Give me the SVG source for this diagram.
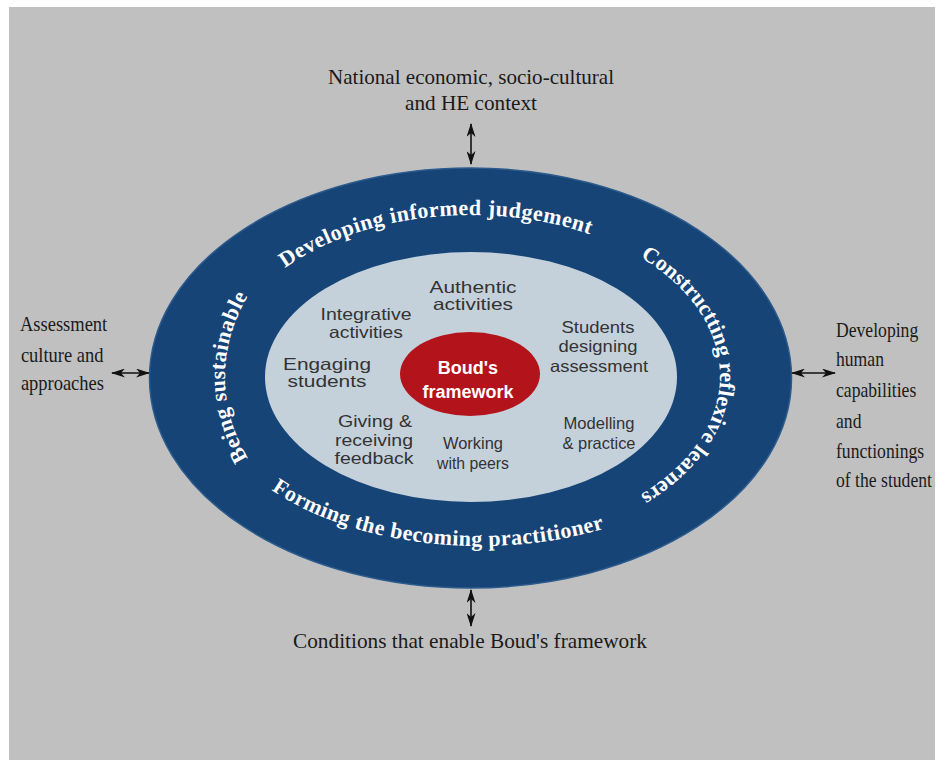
<svg xmlns="http://www.w3.org/2000/svg" width="947" height="760" viewBox="0 0 947 760">
<style>
.ring{font-family:"Liberation Serif","Times New Roman",serif;font-weight:bold;font-size:22px;fill:#ffffff}
.in{font-family:"Liberation Sans",Arial,sans-serif;font-size:16.5px;fill:#333333;text-anchor:middle}
.out{font-family:"Liberation Serif","Times New Roman",serif;font-size:21px;fill:#1a1a1a}
.core{font-family:"Liberation Sans",Arial,sans-serif;font-weight:bold;font-size:18px;fill:#ffffff;text-anchor:middle}
.conn{stroke:#111111;stroke-width:1.6;fill:none;marker-start:url(#ah);marker-end:url(#ah)}
</style>
<defs>
<marker id="ah" viewBox="0 0 14 9" refX="13" refY="4.5" markerWidth="14" markerHeight="9" markerUnits="userSpaceOnUse" orient="auto-start-reverse">
<path d="M0,0 L14,4.5 L0,9 L4,4.5 z" fill="#111111"/>
</marker>
<path id="pTop" d="M219,378 A252,163 0 1 1 723,378 A252,163 0 1 1 219,378"/>
<path id="pRight" d="M471,214 A249,162 0 1 1 471,538 A249,162 0 1 1 471,214"/>
<path id="pLeft" d="M471,569 A246,192 0 1 1 471,185 A246,192 0 1 1 471,569"/>
<path id="pBottom" d="M200,378 A280,168 0 1 0 760,378 A280,168 0 1 0 200,378"/>
</defs>
<rect x="0" y="0" width="947" height="760" fill="#ffffff"/>
<rect x="9" y="7" width="926" height="753" fill="#c0c0c0"/>

<g id="outer-ring">
<ellipse cx="470.5" cy="378" rx="321" ry="210" fill="#174476" stroke="#2b5a8c" stroke-width="1.5"/>
<text class="ring" letter-spacing="0.5"><textPath href="#pTop" startOffset="292" text-anchor="middle">Developing informed judgement</textPath></text>
<text class="ring" letter-spacing="0"><textPath href="#pRight" startOffset="25%" text-anchor="middle">Constructting reflexive learners</textPath></text>
<text class="ring" letter-spacing="0.4"><textPath href="#pLeft" startOffset="25%" text-anchor="middle">Being sustainable</textPath></text>
<text class="ring" letter-spacing="0.45"><textPath href="#pBottom" startOffset="311" text-anchor="middle">Forming the becoming practitioner</textPath></text>
</g>

<g id="inner-area">
<ellipse cx="471" cy="377" rx="206" ry="125" fill="#c4d1db"/>
</g>

<g id="authentic-activities">
<text class="in" x="473" y="293" textLength="87" lengthAdjust="spacingAndGlyphs">Authentic</text>
<text class="in" x="473" y="310" textLength="80" lengthAdjust="spacingAndGlyphs">activities</text>
</g>
<g id="integrative-activities">
<text class="in" x="366" y="320" textLength="91" lengthAdjust="spacingAndGlyphs">Integrative</text>
<text class="in" x="366" y="338" textLength="74" lengthAdjust="spacingAndGlyphs">activities</text>
</g>
<g id="students-designing">
<text class="in" x="598" y="333" textLength="73" lengthAdjust="spacingAndGlyphs">Students</text>
<text class="in" x="598" y="352" textLength="79" lengthAdjust="spacingAndGlyphs">designing</text>
<text class="in" x="599" y="372" textLength="98" lengthAdjust="spacingAndGlyphs">assessment</text>
</g>
<g id="engaging-students">
<text class="in" x="327" y="370" textLength="88" lengthAdjust="spacingAndGlyphs">Engaging</text>
<text class="in" x="327" y="387" textLength="79" lengthAdjust="spacingAndGlyphs">students</text>
</g>
<g id="giving-receiving">
<text class="in" x="375" y="427" textLength="74" lengthAdjust="spacingAndGlyphs">Giving &amp;</text>
<text class="in" x="374" y="446" textLength="78" lengthAdjust="spacingAndGlyphs">receiving</text>
<text class="in" x="374" y="464" textLength="79" lengthAdjust="spacingAndGlyphs">feedback</text>
</g>
<g id="working-peers">
<text class="in" x="473" y="449" textLength="60" lengthAdjust="spacingAndGlyphs">Working</text>
<text class="in" x="473" y="469" textLength="72" lengthAdjust="spacingAndGlyphs">with peers</text>
</g>
<g id="modelling-practice">
<text class="in" x="599" y="429" textLength="71" lengthAdjust="spacingAndGlyphs">Modelling</text>
<text class="in" x="599" y="449" textLength="73" lengthAdjust="spacingAndGlyphs">&amp; practice</text>
</g>

<g id="bouds-framework">
<ellipse cx="470" cy="374" rx="70" ry="42" fill="#b3141c"/>
<text class="core" x="468" y="374">Boud's</text>
<text class="core" x="468" y="398">framework</text>
</g>

<g id="label-top">
<text class="out" x="328" y="84" textLength="286" lengthAdjust="spacingAndGlyphs">National economic, socio-cultural</text>
<text class="out" x="405" y="110" textLength="132" lengthAdjust="spacingAndGlyphs">and HE context</text>
</g>
<g id="label-left" transform="translate(20,0) scale(0.88,1)">
<text class="out" x="0" y="331">Assessment</text>
<text class="out" x="1" y="362">culture and</text>
<text class="out" x="1" y="390">approaches</text>
</g>
<g id="label-right" transform="translate(836,0) scale(0.84,1)">
<text class="out" x="0" y="337">Developing</text>
<text class="out" x="0" y="366">human</text>
<text class="out" x="0" y="397">capabilities</text>
<text class="out" x="0" y="428">and</text>
<text class="out" x="0" y="458">functionings</text>
<text class="out" x="0" y="487">of the student</text>
</g>
<g id="label-bottom">
<text class="out" x="293" y="648" textLength="354" lengthAdjust="spacingAndGlyphs">Conditions that enable Boud's framework</text>
</g>

<g id="connectors">
<line class="conn" x1="471" y1="124" x2="471" y2="164"/>
<line class="conn" x1="471" y1="590" x2="471" y2="626"/>
<line class="conn" x1="112" y1="373" x2="149" y2="373"/>
<line class="conn" x1="792" y1="373" x2="835" y2="373"/>
</g>
</svg>
